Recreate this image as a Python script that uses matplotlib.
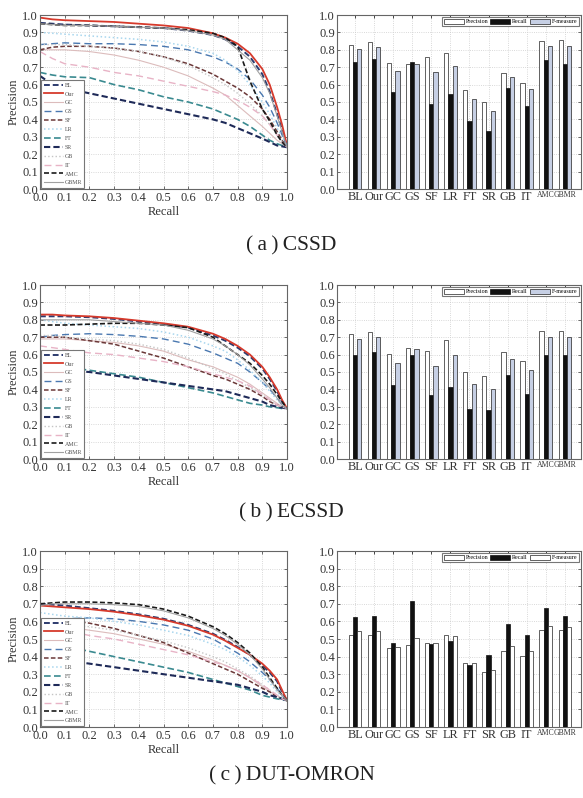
import numpy as np
import matplotlib
matplotlib.use("Agg")
import matplotlib.pyplot as plt

plt.rcParams['font.family'] = ['Liberation Serif', 'DejaVu Serif']
plt.rcParams['xtick.direction'] = 'in'
plt.rcParams['ytick.direction'] = 'in'

methods = ["BL", "Our", "GC", "GS", "SF", "LR", "FT", "SR", "GB", "IT", "AMC", "GBMR"]
datasets = ["CSSD", "ECSSD", "DUT-OMRON"]
captions = ["(\u2009a\u2009)\u2009CSSD", "(\u2009b\u2009)\u2009ECSSD", "(\u2009c\u2009)\u2009DUT-OMRON"]

# recall positions of the points
recall = [0.0, 0.05, 0.1, 0.2, 0.3, 0.4, 0.5, 0.6, 0.7, 0.75, 0.8, 0.85, 0.9, 0.93, 0.96, 0.98, 1.0]

pr_cssd = {
    "BL":   [0.955, 0.95, 0.945, 0.94, 0.935, 0.93, 0.925, 0.91, 0.885, 0.86, 0.82, 0.76, 0.66, 0.56, 0.43, 0.34, 0.24],
    "Our":  [0.985, 0.975, 0.97, 0.965, 0.96, 0.95, 0.94, 0.925, 0.895, 0.87, 0.835, 0.78, 0.69, 0.60, 0.47, 0.37, 0.25],
    "GC":   [0.80, 0.80, 0.80, 0.79, 0.77, 0.74, 0.70, 0.65, 0.58, 0.54, 0.48, 0.42, 0.36, 0.32, 0.28, 0.26, 0.24],
    "GS":   [0.83, 0.835, 0.84, 0.835, 0.835, 0.83, 0.82, 0.80, 0.76, 0.73, 0.69, 0.63, 0.54, 0.47, 0.38, 0.31, 0.25],
    "SF":   [0.80, 0.815, 0.82, 0.82, 0.81, 0.79, 0.76, 0.72, 0.66, 0.62, 0.58, 0.53, 0.46, 0.40, 0.33, 0.28, 0.24],
    "LR":   [0.90, 0.895, 0.89, 0.88, 0.87, 0.86, 0.845, 0.82, 0.78, 0.74, 0.68, 0.60, 0.50, 0.43, 0.35, 0.30, 0.24],
    "FT":   [0.67, 0.655, 0.645, 0.64, 0.60, 0.57, 0.53, 0.50, 0.46, 0.43, 0.40, 0.36, 0.31, 0.28, 0.26, 0.25, 0.24],
    "SR":   [0.65, 0.60, 0.58, 0.55, 0.52, 0.49, 0.46, 0.43, 0.40, 0.38, 0.35, 0.32, 0.29, 0.27, 0.25, 0.245, 0.24],
    "GB":   [0.83, 0.83, 0.83, 0.82, 0.81, 0.79, 0.76, 0.71, 0.64, 0.60, 0.55, 0.49, 0.42, 0.37, 0.31, 0.27, 0.24],
    "IT":   [0.79, 0.75, 0.72, 0.70, 0.67, 0.65, 0.62, 0.59, 0.56, 0.54, 0.51, 0.47, 0.42, 0.37, 0.31, 0.27, 0.24],
    "AMC":  [0.95, 0.945, 0.94, 0.94, 0.935, 0.93, 0.925, 0.915, 0.895, 0.87, 0.82, 0.62, 0.46, 0.39, 0.31, 0.27, 0.24],
    "GBMR": [0.95, 0.945, 0.94, 0.94, 0.935, 0.93, 0.925, 0.91, 0.885, 0.86, 0.80, 0.74, 0.64, 0.55, 0.42, 0.33, 0.24],
}

pr_ecssd = {
    "BL":   [0.82, 0.82, 0.82, 0.815, 0.805, 0.79, 0.775, 0.755, 0.71, 0.68, 0.64, 0.59, 0.52, 0.46, 0.39, 0.33, 0.29],
    "Our":  [0.83, 0.83, 0.825, 0.82, 0.81, 0.795, 0.78, 0.76, 0.72, 0.69, 0.65, 0.60, 0.53, 0.47, 0.40, 0.34, 0.29],
    "GC":   [0.69, 0.69, 0.69, 0.68, 0.67, 0.65, 0.62, 0.57, 0.53, 0.50, 0.47, 0.43, 0.38, 0.35, 0.32, 0.30, 0.29],
    "GS":   [0.70, 0.71, 0.715, 0.72, 0.715, 0.705, 0.69, 0.66, 0.61, 0.58, 0.55, 0.50, 0.44, 0.40, 0.35, 0.31, 0.29],
    "SF":   [0.70, 0.70, 0.70, 0.68, 0.66, 0.62, 0.58, 0.53, 0.48, 0.46, 0.43, 0.40, 0.36, 0.33, 0.31, 0.30, 0.29],
    "LR":   [0.80, 0.79, 0.78, 0.77, 0.76, 0.75, 0.73, 0.70, 0.65, 0.62, 0.57, 0.51, 0.44, 0.39, 0.34, 0.31, 0.29],
    "FT":   [0.55, 0.54, 0.53, 0.51, 0.49, 0.47, 0.44, 0.41, 0.38, 0.36, 0.34, 0.32, 0.31, 0.30, 0.295, 0.29, 0.29],
    "SR":   [0.54, 0.52, 0.51, 0.50, 0.48, 0.46, 0.44, 0.42, 0.40, 0.39, 0.37, 0.35, 0.33, 0.31, 0.30, 0.295, 0.29],
    "GB":   [0.71, 0.71, 0.70, 0.69, 0.68, 0.66, 0.63, 0.58, 0.52, 0.49, 0.45, 0.41, 0.37, 0.34, 0.31, 0.30, 0.29],
    "IT":   [0.65, 0.64, 0.63, 0.61, 0.60, 0.58, 0.56, 0.53, 0.49, 0.47, 0.45, 0.42, 0.37, 0.34, 0.31, 0.30, 0.29],
    "AMC":  [0.77, 0.77, 0.77, 0.775, 0.78, 0.78, 0.77, 0.755, 0.70, 0.65, 0.60, 0.55, 0.48, 0.43, 0.37, 0.33, 0.29],
    "GBMR": [0.80, 0.80, 0.80, 0.80, 0.79, 0.78, 0.77, 0.74, 0.69, 0.65, 0.60, 0.54, 0.46, 0.41, 0.35, 0.31, 0.29],
}

pr_dut = {
    "BL":   [0.70, 0.695, 0.69, 0.675, 0.66, 0.64, 0.615, 0.58, 0.53, 0.495, 0.455, 0.41, 0.35, 0.31, 0.26, 0.20, 0.15],
    "Our":  [0.69, 0.685, 0.68, 0.67, 0.655, 0.635, 0.61, 0.575, 0.525, 0.49, 0.45, 0.41, 0.36, 0.32, 0.27, 0.21, 0.15],
    "GC":   [0.58, 0.575, 0.57, 0.55, 0.53, 0.50, 0.47, 0.43, 0.38, 0.35, 0.32, 0.28, 0.23, 0.20, 0.18, 0.16, 0.15],
    "GS":   [0.60, 0.61, 0.615, 0.62, 0.615, 0.60, 0.58, 0.55, 0.50, 0.46, 0.42, 0.37, 0.31, 0.27, 0.22, 0.18, 0.15],
    "SF":   [0.61, 0.615, 0.61, 0.59, 0.56, 0.52, 0.48, 0.42, 0.36, 0.33, 0.30, 0.26, 0.22, 0.20, 0.17, 0.16, 0.15],
    "LR":   [0.65, 0.64, 0.63, 0.62, 0.60, 0.58, 0.55, 0.52, 0.47, 0.44, 0.40, 0.35, 0.29, 0.25, 0.20, 0.17, 0.15],
    "FT":   [0.48, 0.47, 0.46, 0.43, 0.40, 0.37, 0.34, 0.31, 0.27, 0.25, 0.23, 0.21, 0.18, 0.17, 0.16, 0.155, 0.15],
    "SR":   [0.40, 0.39, 0.38, 0.36, 0.34, 0.32, 0.30, 0.28, 0.26, 0.25, 0.24, 0.22, 0.20, 0.18, 0.17, 0.16, 0.15],
    "GB":   [0.60, 0.59, 0.58, 0.57, 0.55, 0.52, 0.49, 0.45, 0.40, 0.37, 0.33, 0.29, 0.24, 0.21, 0.18, 0.16, 0.15],
    "IT":   [0.58, 0.57, 0.55, 0.52, 0.50, 0.47, 0.44, 0.41, 0.37, 0.35, 0.32, 0.28, 0.24, 0.21, 0.18, 0.16, 0.15],
    "AMC":  [0.70, 0.705, 0.71, 0.71, 0.705, 0.695, 0.67, 0.63, 0.57, 0.53, 0.48, 0.42, 0.34, 0.28, 0.22, 0.18, 0.15],
    "GBMR": [0.69, 0.70, 0.70, 0.70, 0.695, 0.685, 0.66, 0.62, 0.56, 0.52, 0.47, 0.41, 0.33, 0.27, 0.21, 0.18, 0.15],
}

# bar values: precision, recall, F-measure per method
prec_cssd = [0.83, 0.843, 0.727, 0.72, 0.761, 0.78, 0.57, 0.499, 0.667, 0.607, 0.851, 0.857]
rec_cssd  = [0.728, 0.747, 0.556, 0.73, 0.487, 0.545, 0.392, 0.333, 0.583, 0.478, 0.74, 0.721]
f_cssd    = [0.803, 0.816, 0.681, 0.72, 0.672, 0.709, 0.52, 0.449, 0.644, 0.574, 0.822, 0.82]

prec_ecssd = [0.72, 0.73, 0.605, 0.64, 0.62, 0.685, 0.50, 0.475, 0.615, 0.565, 0.735, 0.735]
rec_ecssd  = [0.60, 0.615, 0.425, 0.60, 0.365, 0.415, 0.29, 0.28, 0.48, 0.375, 0.60, 0.60]
f_ecssd    = [0.69, 0.70, 0.55, 0.63, 0.535, 0.595, 0.43, 0.405, 0.575, 0.51, 0.70, 0.70]

prec_dut = [0.525, 0.52, 0.45, 0.465, 0.48, 0.525, 0.365, 0.31, 0.43, 0.405, 0.55, 0.55]
rec_dut  = [0.625, 0.63, 0.475, 0.715, 0.47, 0.49, 0.355, 0.41, 0.585, 0.525, 0.675, 0.63]
f_dut    = [0.545, 0.545, 0.455, 0.505, 0.48, 0.515, 0.365, 0.325, 0.46, 0.43, 0.575, 0.57]

pr_all = [pr_cssd, pr_ecssd, pr_dut]
bars_all = [(prec_cssd, rec_cssd, f_cssd), (prec_ecssd, rec_ecssd, f_ecssd), (prec_dut, rec_dut, f_dut)]
fcolors = ['#c6cfe4', '#c6cfe4', 'white']

styles = {
    "BL":   dict(color='#2d3b6e', ls=(0, (3, 1.5)), lw=1.4),
    "Our":  dict(color='#d63a2c', ls='-', lw=1.3),
    "GC":   dict(color='#dcbcbc', ls='-', lw=0.8),
    "GS":   dict(color='#4a78b0', ls=(0, (5, 3)), lw=1.0),
    "SF":   dict(color='#6b3838', ls=(0, (3, 1.5)), lw=1.1),
    "LR":   dict(color='#a8d6ee', ls=':', lw=1.1),
    "FT":   dict(color='#3a8a90', ls=(0, (4, 2)), lw=1.2),
    "SR":   dict(color='#1e2a58', ls=(0, (3, 1.5)), lw=1.5),
    "GB":   dict(color='#c4c4c4', ls=':', lw=1.0),
    "IT":   dict(color='#e8b3c6', ls=(0, (5, 3)), lw=1.0),
    "AMC":  dict(color='#1a1a1a', ls=(0, (3, 1.5)), lw=1.2),
    "GBMR": dict(color='#a0a0a0', ls='-', lw=0.8),
}

W, H = 583, 798
fig = plt.figure(figsize=(W / 100, H / 100), dpi=100)

rows_px = [(15, 189), (285, 459), (551, 727)]
cap_y = [246, 513, 776]
ticks = np.round(np.arange(0, 1.01, 0.1), 1)
ticklab = [f"{t:.1f}" for t in ticks]
frame = '#666666'

for i in range(3):
    top, bot = rows_px[i]
    b = 1 - bot / H
    h = (bot - top) / H

    # PR curves
    ax = fig.add_axes([40 / W, b, 247 / W, h])
    for m in methods:
        ax.plot(recall, pr_all[i][m], label=m, **styles[m])
    ax.set_xlim(0, 1)
    ax.set_ylim(0, 1)
    ax.set_xticks(ticks)
    ax.set_yticks(ticks)
    ax.set_xticklabels(ticklab)
    ax.set_yticklabels(ticklab)
    ax.tick_params(labelsize=9, length=2.5, width=0.5, top=True, right=True,
                   colors='#333333', pad=1.5)
    ax.tick_params(axis='x', pad=2.5)
    ax.grid(True, ls=':', color='#cccccc', lw=0.6)
    for s in ax.spines.values():
        s.set_color(frame)
        s.set_linewidth(0.8)
    ax.set_xlabel("Recall", fontsize=9, color='#333333', labelpad=1)
    ax.set_ylabel("Precision", fontsize=9, color='#333333', labelpad=2)
    leg = ax.legend(loc='lower left', fontsize=4.3, handlelength=3.2, labelspacing=0.62,
                    handletextpad=0.3, borderpad=0.4, borderaxespad=0.2,
                    fancybox=False, edgecolor='#777777', framealpha=1)
    leg.get_frame().set_linewidth(0.8)
    for t in leg.get_texts():
        t.set_color('#555555')

    # bar chart
    bx = fig.add_axes([337 / W, b, 244 / W, h])
    pos = np.arange(1, len(methods) + 1)
    bw = 0.22
    p, r, f = bars_all[i]
    bx.bar(pos - bw, p, bw, color='white', edgecolor='#222222', lw=0.5, label='Precision', zorder=3)
    bx.bar(pos, r, bw, color='#111111', edgecolor='#111111', lw=0.5, label='Recall', zorder=3)
    bx.bar(pos + bw, f, bw, color=fcolors[i], edgecolor='#222222', lw=0.5, label='F-measure', zorder=3)
    bx.set_xlim(0.05, 12.85)
    bx.set_ylim(0, 1)
    bx.set_yticks(ticks)
    bx.set_yticklabels(ticklab)
    bx.set_xticks(pos)
    bx.set_xticklabels(methods)
    for lab in bx.get_xticklabels():
        if lab.get_text() in ("AMC", "GBMR"):
            lab.set_fontsize(5.6)
        else:
            lab.set_fontsize(8.8)
        lab.set_color('#333333')
    bx.tick_params(axis='y', labelsize=9, colors='#333333')
    bx.tick_params(length=2.5, width=0.5, top=True, right=True, pad=1.5)
    bx.grid(True, ls=':', color='#cccccc', lw=0.6, zorder=0)
    bx.set_axisbelow(True)
    for s in bx.spines.values():
        s.set_color(frame)
        s.set_linewidth(0.8)
    bl = bx.legend(loc='upper right', ncol=3, fontsize=4.3, handlelength=3.4, handleheight=0.9,
                   handletextpad=0.3, columnspacing=0.3, borderpad=0.3, borderaxespad=0.3,
                   fancybox=False, edgecolor='#777777', framealpha=1)
    bl.get_frame().set_linewidth(0.8)
    bl.set_zorder(5)

    fig.text(0.5, 1 - cap_y[i] / H, captions[i], ha='center', va='center', fontsize=15.5, color='#222222')

fig.savefig("out.png", dpi=100)
